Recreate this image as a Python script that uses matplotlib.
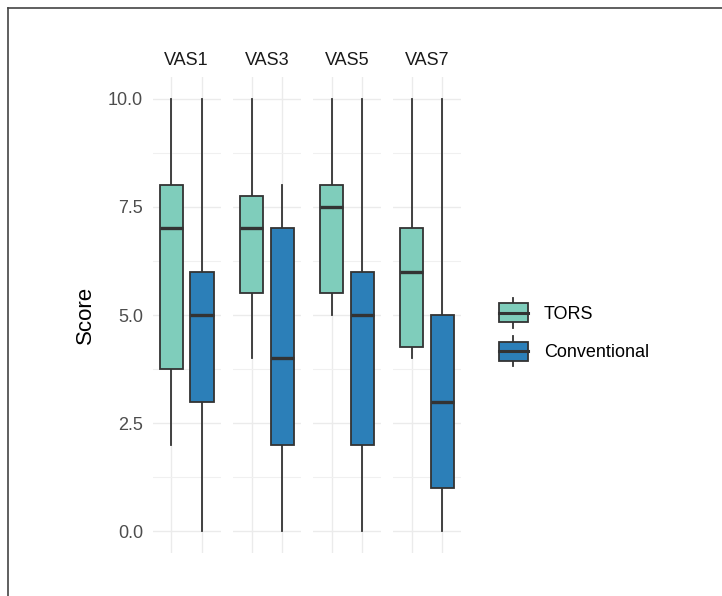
import matplotlib
matplotlib.use("Agg")
import matplotlib.pyplot as plt
from matplotlib.lines import Line2D
from matplotlib.patches import Rectangle, Patch
from matplotlib.legend_handler import HandlerBase

plt.rcParams['font.family'] = ['Liberation Sans', 'DejaVu Sans']

# data: whisker low, q1, median, q3, whisker high
visits = ["VAS1", "VAS3", "VAS5", "VAS7"]
groups = ["TORS", "Conventional"]
colors = ["#7fcdbb", "#2c7fb8"]

tors_low = [2, 4, 5, 4]
tors_q1 = [3.75, 5.5, 5.5, 4.25]
tors_med = [7, 7, 7.5, 6]
tors_q3 = [8, 7.75, 8, 7]
tors_high = [10, 10, 10, 10]

conv_low = [0, 0, 0, 0]
conv_q1 = [3, 2, 2, 1]
conv_med = [5, 4, 5, 3]
conv_q3 = [6, 7, 6, 5]
conv_high = [10, 8, 10, 10]

yticks = [0.0, 2.5, 5.0, 7.5, 10.0]

edge = "#333333"
W, H, DPI = 722, 596, 100
fig = plt.figure(figsize=(W / DPI, H / DPI), dpi=DPI)

panel_left = [152.6, 233, 313, 393]
panel_w = 68
top_px, bot_px = 77, 553


class BoxKey(HandlerBase):
    def create_artists(self, legend, orig_handle, xdescent, ydescent,
                       width, height, fontsize, trans):
        x0, y0 = -xdescent, -ydescent
        box = Rectangle((x0, y0 + 0.185 * height), width, 0.63 * height,
                        facecolor=orig_handle.get_facecolor(), edgecolor=edge,
                        linewidth=1.3, transform=trans)
        whisk = Line2D([x0 + width / 2] * 2, [y0, y0 + height], color=edge,
                       linewidth=1.3, transform=trans)
        med = Line2D([x0, x0 + width], [y0 + height / 2] * 2, color=edge,
                     linewidth=2.2, transform=trans)
        return [whisk, box, med]


for i, visit in enumerate(visits):
    ax = fig.add_axes([panel_left[i] / W, (H - bot_px) / H,
                       panel_w / W, (bot_px - top_px) / H])
    stats = [
        dict(whislo=tors_low[i], q1=tors_q1[i], med=tors_med[i],
             q3=tors_q3[i], whishi=tors_high[i], fliers=[]),
        dict(whislo=conv_low[i], q1=conv_q1[i], med=conv_med[i],
             q3=conv_q3[i], whishi=conv_high[i], fliers=[]),
    ]
    bp = ax.bxp(stats, positions=[1, 2], widths=0.75, patch_artist=True,
                showcaps=False, showfliers=False,
                boxprops=dict(edgecolor=edge, linewidth=1.3),
                whiskerprops=dict(color=edge, linewidth=1.3),
                medianprops=dict(color=edge, linewidth=2.4, solid_capstyle='butt'))
    for patch, c in zip(bp['boxes'], colors):
        patch.set_facecolor(c)
        patch.set_zorder(3)
    for ln in bp['whiskers']:
        ln.set_zorder(2)
    for ln in bp['medians']:
        ln.set_zorder(4)

    ax.set_xlim(0.4, 2.6)
    ax.set_ylim(-0.5, 10.5)
    ax.set_xticks([1, 2])
    ax.set_xticklabels([])
    ax.set_yticks(yticks)
    ax.set_yticks([1.25, 3.75, 6.25, 8.75], minor=True)
    ax.grid(True, which='major', color='#ebebeb', linewidth=1.0, zorder=0)
    ax.grid(True, which='minor', axis='y', color='#f0f0f0', linewidth=0.8, zorder=0)
    ax.set_axisbelow(True)
    for s in ax.spines.values():
        s.set_visible(False)
    ax.tick_params(which='both', length=0)
    if i == 0:
        ax.set_yticklabels([f"{t:.1f}" for t in yticks], color='#4d4d4d', fontsize=13)
        ax.tick_params(axis='y', pad=7)
    else:
        ax.set_yticklabels([])
    ax.text(0.5, 1.026, visit, transform=ax.transAxes, ha='center',
            va='baseline', fontsize=13, color='#1a1a1a')

fig.text(85 / W, 1 - 315 / H, "Score", rotation=90, ha='center', va='center',
         fontsize=16, color='black')

handles = [Patch(facecolor=c) for c in colors]
fig.legend(handles, groups, handler_map={Patch: BoxKey()},
           loc='center left', bbox_to_anchor=(499 / W, 1 - 332 / H),
           frameon=False, fontsize=13, handlelength=1.6, handleheight=2.18,
           labelspacing=0.45, handletextpad=0.89, borderpad=0, borderaxespad=0)

# thin frame on the top and left of the image
fig.add_artist(Line2D([8 / W, 1], [1 - 7.5 / H] * 2, color='#444444', linewidth=1.2))
fig.add_artist(Line2D([8 / W] * 2, [0, 1 - 7.5 / H], color='#444444', linewidth=1.2))

fig.savefig("out.png", dpi=DPI)
